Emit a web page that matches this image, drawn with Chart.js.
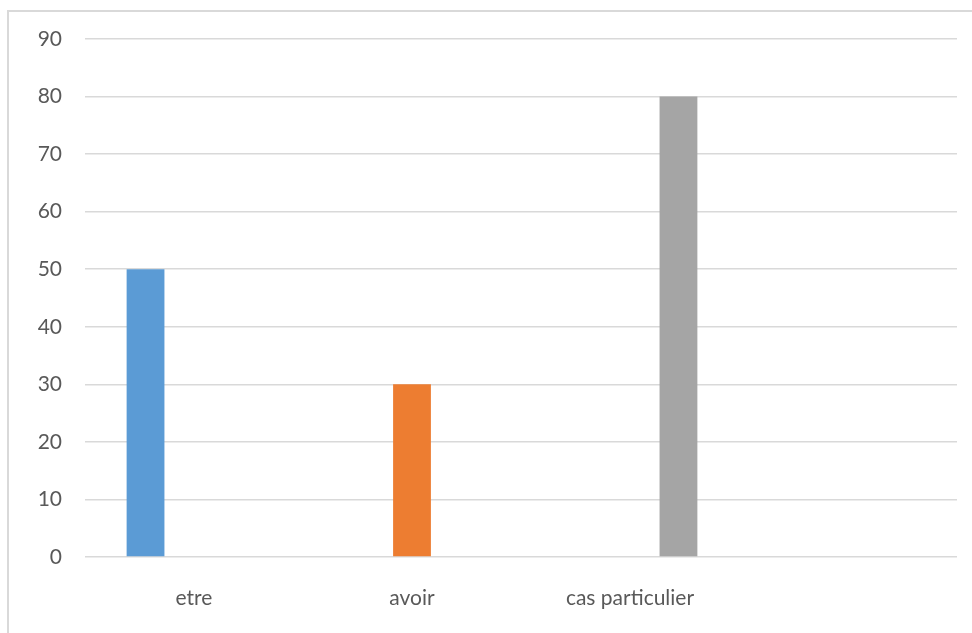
<!DOCTYPE html>
<html>
<head>
<meta charset="utf-8">
<script src="https://cdn.jsdelivr.net/npm/chart.js@4/dist/chart.umd.min.js"></script>
<style>
  html, body { margin: 0; padding: 0; background: #fff; overflow: hidden; }
  .frame {
    position: absolute; left: 7px; top: 10px;
    width: 990px; height: 660px;
    border: 2px solid #d9d9d9; box-sizing: border-box;
  }
  .wrap { position: absolute; left: 0; top: 0; width: 972px; height: 633px; }
</style>
</head>
<body>
<div class="frame"></div>
<div class="wrap"><canvas id="chart"></canvas></div>
<script>
// categories on the x axis (the last slot is empty, as in the original)
const categories = ["etre", "avoir", "cas particulier", ""];
// one series per category
const seriesNames = ["etre", "avoir", "cas particulier"];
const seriesValues = [50, 30, 80];
const seriesColors = ["#5b9bd5", "#ed7d31", "#a5a5a5"];
const yTicks = [0, 10, 20, 30, 40, 50, 60, 70, 80, 90];

// each series only has a value in its own category
const datasets = seriesNames.map((name, i) => ({
  label: name,
  data: categories.map((c, j) => (j === i ? seriesValues[i] : null)),
  backgroundColor: seriesColors[i],
  borderWidth: 0,
  categoryPercentage: 0.667,
  barPercentage: 0.78
}));

const ctx = document.getElementById('chart');
new Chart(ctx, {
  type: 'bar',
  data: { labels: categories, datasets: datasets },
  options: {
    responsive: true,
    maintainAspectRatio: false,
    animation: false,
    layout: { padding: { left: 0, right: 15, top: 39, bottom: 0 } },
    plugins: { legend: { display: false }, tooltip: { enabled: false } },
    scales: {
      x: {
        grid: { display: false, drawTicks: false },
        border: { display: false },
        ticks: {
          color: '#595959',
          font: { family: 'Lato', size: 21 },
          padding: 29,
          maxRotation: 0
        },
        afterFit: (s) => { s.height = 633 - 557; }
      },
      y: {
        min: 0,
        max: 90,
        afterBuildTicks: (s) => { s.ticks = yTicks.map(v => ({ value: v })); },
        grid: { color: '#d9d9d9', lineWidth: 1.5, drawTicks: false },
        border: { display: false },
        ticks: {
          color: '#595959',
          font: { family: 'Lato', size: 21 },
          padding: 23
        },
        afterFit: (s) => { s.width = 85; }
      }
    }
  }
});
</script>
</body>
</html>
